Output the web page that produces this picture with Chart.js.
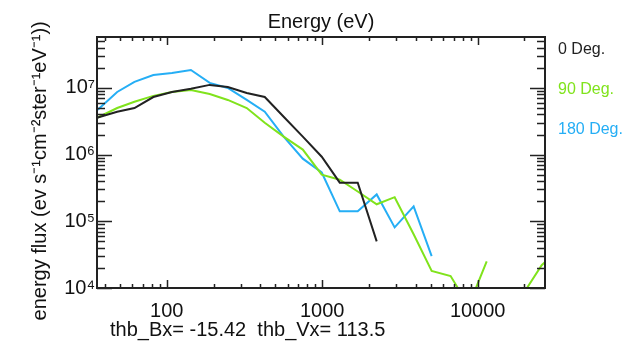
<!DOCTYPE html>
<html>
<head>
<meta charset="utf-8">
<script src="https://cdn.jsdelivr.net/npm/chart.js@4.4.0/dist/chart.umd.min.js"></script>
<style>
  html, body { margin: 0; padding: 0; background: #fff; }
  #wrap { width: 633px; height: 341px; }
</style>
</head>
<body>
<div id="wrap"><canvas id="fluxChart"></canvas></div>
<script>
// energy channels (eV)
const energies = [36, 48, 62, 82, 108, 143, 189, 247, 327, 427, 565, 750, 993, 1297, 1692,
                  2241, 2924, 3873, 5058, 6697, 8750, 11430, 15140, 19770, 25800, 34200];

// energy flux for each pitch angle
const flux0 = [3.6e6, 4.4e6, 5.0e6, 7.3e6, 8.7e6, 9.7e6, 1.11e7, 1.03e7, 8.4e6, 7.3e6, 3.7e6, 1.86e6, 9.3e5,
               3.8e5, 3.8e5, 5.0e4, null, null, null, null, null, null, null, null, null, null];
const flux90 = [3.6e6, 5.0e6, 6.2e6, 7.6e6, 8.7e6, 9.3e6, 8.1e6, 6.6e6, 5.0e6, 3.0e6, 1.86e6, 1.19e6, 5.0e5,
                4.2e5, 2.8e5, 1.8e5, 2.3e5, 6.4e4, 1.8e4, 1.51e4, 5.4e3, 2.5e4, null, 8.4e3, 2.2e4, 4.0e4];
const flux180 = [4.7e6, 8.7e6, 1.23e7, 1.56e7, 1.67e7, 1.86e7, 1.19e7, 1.0e7, 6.6e6, 4.4e6, 1.86e6, 8.7e5, 5.4e5,
                 1.41e5, 1.42e5, 2.53e5, 8.1e4, 1.67e5, 3.0e4, null, null, null, null, null, null, null];

const seriesNames = ['0 Deg.', '90 Deg.', '180 Deg.'];

// axis labels
const xTickValues = [100, 1000, 10000];
const xTickText = ['100', '1000', '10000'];
const yTickValues = [1e4, 1e5, 1e6, 1e7];
const yTickText = ['10\u2074', '10\u2075', '10\u2076', '10\u2077'];

const FONT = "'Liberation Sans', Arial, sans-serif";

// every tick position 1..9 x 10^n inside a range
function logTicks(min, max) {
    const out = [];
    for (let e = Math.floor(Math.log10(min)); e <= Math.ceil(Math.log10(max)); e++) {
        for (let m = 1; m < 10; m++) {
            const v = m * Math.pow(10, e);
            if (v >= min && v <= max) out.push({ v: v, major: m === 1 });
        }
    }
    return out;
}

// box around the plot with inward ticks on all four sides
const frameTicks = {
    id: 'frameTicks',
    afterDatasetsDraw(chart) {
        const { ctx, chartArea: a, scales: { x, y } } = chart;
        ctx.save();
        ctx.strokeStyle = '#222';
        ctx.lineWidth = 1.5;
        ctx.beginPath();
        logTicks(x.min, x.max).forEach(t => {
            const px = Math.round(x.getPixelForValue(t.v)) + 0.5;
            const len = t.major ? 8 : 4;
            ctx.moveTo(px, a.bottom); ctx.lineTo(px, a.bottom - len);
            ctx.moveTo(px, a.top); ctx.lineTo(px, a.top + len);
        });
        logTicks(y.min, y.max).forEach(t => {
            const py = Math.round(y.getPixelForValue(t.v)) + 0.5;
            const len = t.major ? 15 : 8;
            ctx.moveTo(a.left, py); ctx.lineTo(a.left + len, py);
            ctx.moveTo(a.right, py); ctx.lineTo(a.right - len, py);
        });
        ctx.stroke();
        ctx.lineWidth = 2;
        ctx.strokeRect(a.left, a.top, a.right - a.left, a.bottom - a.top);
        ctx.restore();
    }
};

// legend text on the right and the note under the axis
const sideText = {
    id: 'sideText',
    afterDraw(chart) {
        const { ctx, chartArea: a } = chart;
        ctx.save();
        ctx.textBaseline = 'middle';
        ctx.textAlign = 'left';
        ctx.font = '16px ' + FONT;
        chart.data.datasets.forEach((ds, i) => {
            ctx.fillStyle = ds.borderColor;
            ctx.fillText(ds.label, a.right + 13, a.top + 13 + i * 40);
        });
        ctx.font = '20px ' + FONT;
        ctx.fillStyle = '#111';
        ctx.fillText('thb_Bx= -15.42  thb_Vx= 113.5', 110, 330);
        ctx.restore();
    }
};

new Chart(document.getElementById('fluxChart'), {
    type: 'line',
    data: {
        labels: energies,
        datasets: [
            { label: seriesNames[0], data: flux0, borderColor: '#222222' },
            { label: seriesNames[1], data: flux90, borderColor: '#80e31c' },
            { label: seriesNames[2], data: flux180, borderColor: '#25aef5' }
        ]
    },
    options: {
        responsive: true,
        maintainAspectRatio: false,
        animation: false,
        layout: { padding: { left: 0, right: 88, top: 0, bottom: 0 } },
        elements: {
            point: { radius: 0 },
            line: { borderWidth: 2, tension: 0 }
        },
        datasets: { line: { clip: 0, spanGaps: false } },
        scales: {
            x: {
                type: 'logarithmic',
                min: 35.6,
                max: 27100,
                grid: { display: false },
                border: { display: false },
                afterBuildTicks: scale => { scale.ticks = xTickValues.map(v => ({ value: v })); },
                ticks: {
                    autoSkip: false,
                    maxRotation: 0,
                    padding: 3,
                    color: '#111',
                    font: { family: FONT, size: 20 },
                    callback: v => xTickText[xTickValues.indexOf(v)]
                },
                afterFit: scale => { scale.height = 53; }
            },
            y: {
                type: 'logarithmic',
                min: 1e4,
                max: 5.8e7,
                grid: { display: false },
                border: { display: false },
                afterBuildTicks: scale => { scale.ticks = yTickValues.map(v => ({ value: v })); },
                ticks: {
                    autoSkip: false,
                    padding: -6,
                    color: '#111',
                    font: { family: FONT, size: 20 },
                    callback: v => yTickText[yTickValues.indexOf(v)]
                },
                title: {
                    display: true,
                    text: 'energy flux (ev s\u207B\u00B9cm\u207B\u00B2ster\u207B\u00B9eV\u207B\u00B9))\u00A0\u00A0\u00A0',
                    color: '#111',
                    font: { family: FONT, size: 20 },
                    padding: { top: 28, bottom: 0 }
                },
                afterFit: scale => { scale.width = 97; }
            }
        },
        plugins: {
            legend: { display: false },
            tooltip: { enabled: false },
            title: {
                display: true,
                fullSize: false,
                text: 'Energy (eV)',
                color: '#111',
                font: { family: FONT, size: 20, weight: 'normal' },
                padding: { top: 10, bottom: 3 }
            }
        }
    },
    plugins: [frameTicks, sideText]
});
</script>
</body>
</html>
